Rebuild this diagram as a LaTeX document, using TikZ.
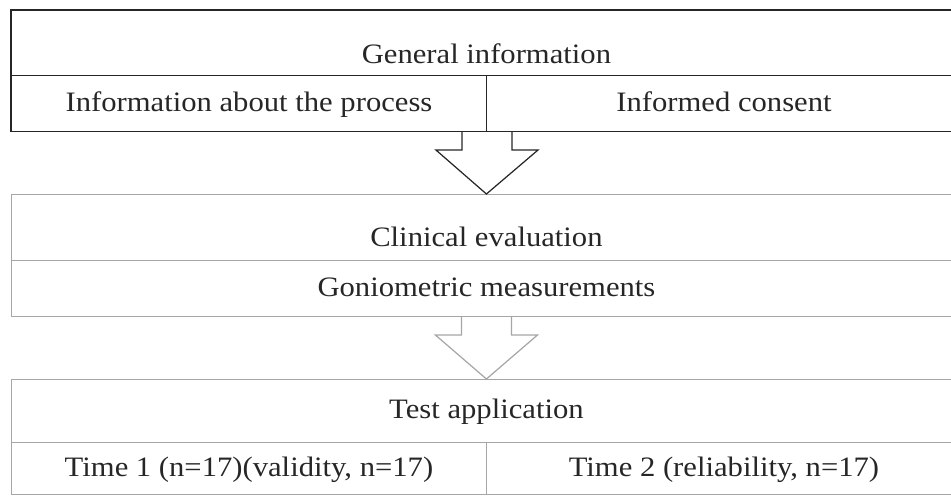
\documentclass[tikz,border=0pt]{standalone}
\usepackage{fontspec}
\setmainfont[FakeStretch=1.09]{Liberation Serif}
\usetikzlibrary{calc}

\tikzset{
	boxfont/.style={font=\fontsize{16}{19}\selectfont, text=black!85,
		text height=1.1em, text depth=0.2em},
	frame/.style={draw=gray!70, line width=0.6pt, inner sep=0pt, anchor=north west, boxfont},
	txt/.style={boxfont, inner sep=0pt},
	blockarrow/.style={draw=#1, line width=0.7pt, line join=miter},
}

% block arrow from the bottom of one box to the top of the next
\newcommand{\flowarrow}[3]{
	\draw[blockarrow=#3] ($(#1)+(-25,0)$) -- ++(0,18) -- ++(-26,0) -- (#2)
		-- ($(#1)+(51,18)$) -- ++(-26,0) -- ++(0,-18);
}

\begin{document}
\begin{tikzpicture}[x=0.02cm, y=-0.02cm]
% Parameters
\def\fullwidth{19cm}
\def\halfwidth{9.5cm}

\clip (0,0) rectangle (951,496);

% General information
\node[frame, draw=black!85, minimum width=\fullwidth, minimum height=1.3cm]
	(General) at (11,10) {};
\node[txt] (General-text) at ($(General.center)+(0,13)$) {General information};
\node[frame, draw=black!85, minimum width=\halfwidth, minimum height=1.12cm]
	(Process) at (11,75) {Information about the process};
\node[frame, draw=black!85, minimum width=\halfwidth, minimum height=1.12cm]
	(Consent) at (486,75) {Informed consent};
\draw[black!85, line width=1.1pt] (Process.south west) -- (General.north west) -- (General.north east);

% Clinical evaluation
\node[frame, minimum width=\fullwidth, minimum height=1.32cm]
	(Clinical) at (11,194) {};
\node[txt] (Clinical-text) at ($(Clinical.center)+(0,11)$) {Clinical evaluation};
\node[frame, minimum width=\fullwidth, minimum height=1.12cm]
	(Goniometric) at (11,260) {Goniometric measurements};

% Test application
\node[frame, minimum width=\fullwidth, minimum height=1.26cm]
	(Test) at (11,379) {Test application};
\node[frame, minimum width=\halfwidth, minimum height=1.04cm]
	(Time-1) at (11,442) {Time 1 (n=17)(validity, n=17)};
\node[frame, minimum width=\halfwidth, minimum height=1.04cm]
	(Time-2) at (486,442) {Time 2 (reliability, n=17)};

% Arrows between the boxes
\flowarrow{Process.south east}{Clinical.north}{black!85}
\flowarrow{Goniometric.south}{Test.north}{gray!70}
\end{tikzpicture}
\end{document}
